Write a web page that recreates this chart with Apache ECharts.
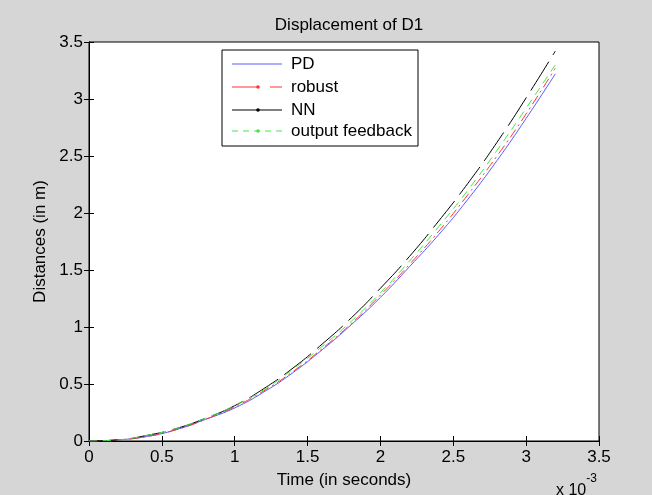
<!DOCTYPE html>
<html>
<head>
<meta charset="utf-8">
<script src="https://cdn.jsdelivr.net/npm/echarts@6/dist/echarts.min.js"></script>
<style>html,body{margin:0;padding:0;background:#d6d6d6;}#c{width:652px;height:495px;}</style>
</head>
<body>
<div id="c"></div>
<script>
var timeX = [0,0.2,0.4,0.6,0.8,1.0,1.2,1.4,1.6,1.8,2.0,2.2,2.4,2.6,2.8,3.0,3.2];
var pd = [0,0.01,0.04,0.1,0.19,0.29,0.43,0.6,0.8,1.02,1.26,1.53,1.81,2.12,2.46,2.83,3.22];
var robust = [0,0.01,0.04,0.1,0.19,0.30,0.44,0.61,0.81,1.03,1.28,1.55,1.84,2.16,2.50,2.87,3.27];
var nn = [0,0.01,0.05,0.11,0.20,0.31,0.46,0.64,0.85,1.08,1.34,1.62,1.93,2.26,2.62,3.01,3.42];
var outputFeedback = [0,0.01,0.05,0.11,0.20,0.31,0.45,0.63,0.83,1.05,1.30,1.58,1.88,2.20,2.55,2.92,3.30];
var seriesNames = ['PD','robust','NN','output feedback'];
var seriesColors = ['#5c5cff','#ff3535','#000000','#44e844'];

function pairs(ys){ return timeX.map(function(x,i){return [x, ys[i]];}); }
var FONT = 'Liberation Sans, Arial, sans-serif';
var FS = 17;
var chart = echarts.init(document.getElementById('c'));
var axisCommon = {
  min: 0, max: 3.5, interval: 0.5,
  axisLine: {show: true, lineStyle: {color: '#000', width: 1}},
  axisTick: {show: true, inside: true, length: 5, lineStyle: {color: '#000'}},
  splitLine: {show: false}
};
function mk(extra){ return Object.assign({}, JSON.parse(JSON.stringify(axisCommon)), extra); }
function line(name, data, color, type, z){
  return {
    name: name, type: 'line', data: pairs(data), smooth: true,
    symbol: 'none', showSymbol: false,
    itemStyle: {color: color},
    lineStyle: {color: color, width: 1, type: type},
    z: z, animation: false
  };
}
// legend drawn as graphic (box, samples, labels)
var LX = 222, LY = 50, LW = 196, LH = 96;
var rowY = [64, 87, 110, 131];
var legendEls = [{type: 'rect', shape: {x: LX, y: LY, width: LW, height: LH},
  style: {fill: '#fff', stroke: '#000', lineWidth: 1}, z: 100}];
var sampleDash = ['solid', [26, 12, 10, 0], 'solid', [6, 5]];
for (var i = 0; i < seriesNames.length; i++) {
  legendEls.push({type: 'line', shape: {x1: 232, y1: rowY[i], x2: 282, y2: rowY[i]},
    style: {stroke: seriesColors[i], lineWidth: 1, lineDash: sampleDash[i] === 'solid' ? null : sampleDash[i]}, z: 101});
  if (i > 0) legendEls.push({type: 'circle', shape: {cx: 258, cy: rowY[i], r: 1.8},
    style: {fill: seriesColors[i]}, z: 102});
  legendEls.push({type: 'text', x: 291, y: rowY[i], style: {text: seriesNames[i], fontFamily: FONT, fontSize: FS,
    fill: '#000', verticalAlign: 'middle'}, z: 102});
}
legendEls.push({
  type: 'text', left: 556, top: 473,
  style: {text: '{b|x 10}{s|-3}', rich: {
    b: {fontFamily: FONT, fontSize: 16, color: '#000', padding: [10, 0, 0, 0]},
    s: {fontFamily: FONT, fontSize: 12, color: '#000', verticalAlign: 'top'}
  }}
});
chart.setOption({
  backgroundColor: '#d6d6d6',
  animation: false,
  title: {text: 'Displacement of D1', left: 344, textAlign: 'center', top: 12,
    textStyle: {fontFamily: FONT, fontSize: FS, fontWeight: 'normal', color: '#000'}},
  grid: {left: 89, right: 53, top: 42, bottom: 54, show: true, backgroundColor: '#fff', borderColor: '#000', borderWidth: 1},
  xAxis: [
    mk({type: 'value', position: 'bottom', name: 'Time (in seconds)', nameLocation: 'middle', nameGap: 31,
      nameTextStyle: {fontFamily: FONT, fontSize: FS, color: '#000'},
      axisLabel: {fontFamily: FONT, fontSize: FS, color: '#000', margin: 8}}),
    mk({type: 'value', position: 'top', axisLabel: {show: false}})
  ],
  yAxis: [
    mk({type: 'value', position: 'left', name: 'Distances (in m)', nameLocation: 'middle', nameGap: 34,
      nameTextStyle: {fontFamily: FONT, fontSize: FS, color: '#000'},
      axisLabel: {fontFamily: FONT, fontSize: FS, color: '#000', margin: 6}}),
    mk({type: 'value', position: 'right', axisLabel: {show: false}})
  ],
  graphic: legendEls,
  series: [
    line('PD', pd, seriesColors[0], 'solid', 2),
    line('robust', robust, seriesColors[1], [10, 4, 2, 4], 3),
    line('NN', nn, seriesColors[2], [34, 8], 4),
    line('output feedback', outputFeedback, seriesColors[3], [8, 6], 5)
  ]
});
</script>
</body>
</html>
